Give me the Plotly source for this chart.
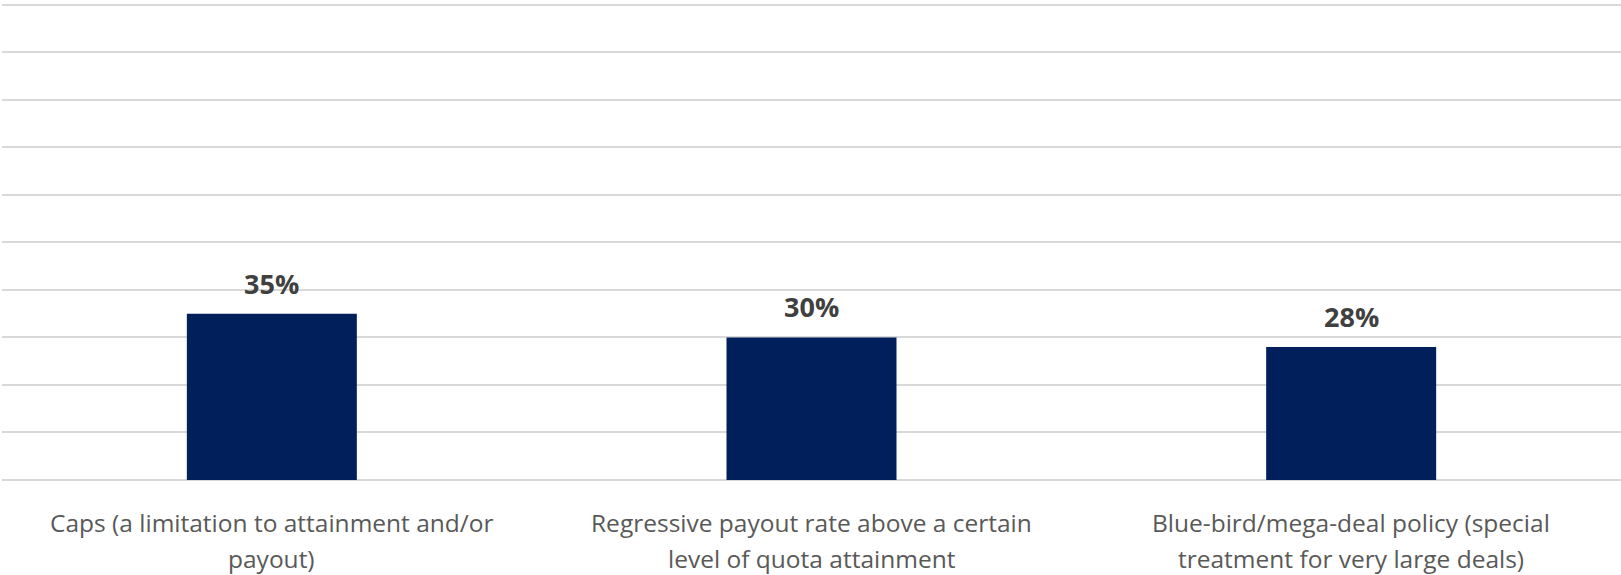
import plotly.graph_objects as go

categories = [
    "Caps (a limitation to attainment and/or<br>payout)",
    "Regressive payout rate above a certain<br>level of quota attainment",
    "Blue-bird/mega-deal policy (special<br>treatment for very large deals)",
]
values = [0.35, 0.30, 0.28]
labels = ["35%", "30%", "28%"]

fig = go.Figure()
fig.add_trace(go.Bar(
    x=categories, y=values,
    marker=dict(color="#001f5b", line=dict(width=0)),
    width=0.315,
    hoverinfo="skip",
))
for c, v, t in zip(categories, values, labels):
    fig.add_annotation(x=c, y=v, text="<b>%s</b>" % t, showarrow=False,
                       yanchor="bottom", yshift=10,
                       font=dict(family="Open Sans", size=27, color="#404040"))
    # category text, one annotation per line for Excel-like line spacing
    for i, line in enumerate(c.split("<br>")):
        fig.add_annotation(x=c, y=0, text=line, showarrow=False,
                           yanchor="middle", yshift=-42 - 36 * i, borderpad=0,
                           font=dict(family="Open Sans", size=24.5, color="#595959"))

fig.update_layout(
    width=1621, height=575,
    margin=dict(l=2, r=0, t=0, b=95),
    paper_bgcolor="white", plot_bgcolor="white",
    showlegend=False,
    font=dict(family="Open Sans"),
    xaxis=dict(showgrid=False, showline=False, ticks="", showticklabels=False),
    yaxis=dict(range=[0, 1.01], tickvals=[i / 10 for i in range(11)],
               showticklabels=False,
               gridcolor="#d9d9d9", gridwidth=2,
               zeroline=True, zerolinecolor="#d9d9d9", zerolinewidth=2,
               showline=False, fixedrange=True),
)
fig.write_html("out.html")
